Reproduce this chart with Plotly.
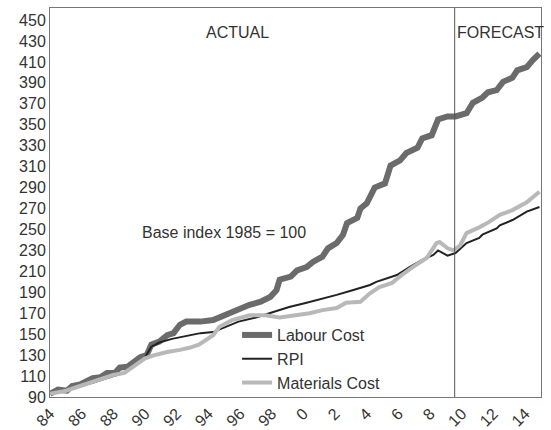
import plotly.graph_objects as go

# ---------------- data ----------------
labour_x = [1984.0, 1984.5, 1985.07, 1985.4, 1985.9, 1986.3, 1986.7, 1987.2, 1987.6, 1988.1,
            1988.4, 1988.9, 1989.2, 1989.7, 1990.1, 1990.4, 1990.9, 1991.4, 1991.8, 1992.2,
            1992.6, 1993.5, 1994.3, 1994.7, 1995.4, 1996.0, 1996.6, 1997.3, 1997.9, 1998.3,
            1998.5, 1999.2, 1999.6, 2000.2, 2000.6, 2001.2, 2001.55, 2002.1, 2002.5, 2002.75,
            2003.4, 2003.6, 2004.0, 2004.5, 2005.15, 2005.5, 2006.1, 2006.5, 2007.2, 2007.5,
            2008.1, 2008.5, 2009.1, 2009.6, 2010.3, 2010.7, 2011.3, 2011.65, 2012.2, 2012.6,
            2013.2, 2013.5, 2014.1, 2014.5, 2014.9]
labour_y = [93, 97, 96, 100.5, 102, 105, 108, 109, 113, 113,
            118, 119, 123, 128, 130, 140, 143, 149, 151, 159,
            162, 162, 163.5, 166, 171, 175, 178, 181, 185.5, 192,
            202, 205, 211, 214, 219, 224, 232, 237, 245, 256,
            261, 270, 275, 290, 294, 311, 316, 323, 328, 337,
            340, 355, 358, 358, 361, 371, 376, 381, 383, 391,
            395, 402, 405, 412, 418]

rpi_x = [1984.0, 1985.0, 1985.8, 1986.8, 1987.8, 1988.7, 1989.5, 1990.0, 1990.4, 1990.9,
         1991.7, 1992.5, 1993.5, 1994.3, 1995.1, 1995.9, 1997.0, 1998.0, 1999.1, 2000.2,
         2001.0, 2002.1, 2003.1, 2003.6, 2004.2, 2004.6, 2005.9, 2006.7, 2007.5, 2008.2,
         2008.5, 2009.1, 2009.6, 2010.3, 2011.1, 2011.3, 2012.2, 2012.4, 2013.2, 2014.1,
         2014.9]
rpi_y = [93, 97, 100, 104, 109, 113, 121, 128, 138, 142,
         145.5, 148, 151, 152, 157, 162, 166, 171, 176, 180,
         183, 187.5, 192, 194, 197, 200, 206.5, 214, 221, 225.6,
         230, 225, 227.5, 237, 242, 245, 251, 254, 259, 267,
         271.5]

materials_x = [1984.0, 1985.0, 1986.0, 1987.0, 1988.0, 1988.7, 1989.5, 1990.0, 1990.6, 1991.4,
               1992.2, 1992.8, 1993.4, 1993.8, 1994.3, 1994.7, 1995.5, 1996.6, 1997.6, 1998.5,
               1999.3, 2000.4, 2001.2, 2002.1, 2002.7, 2003.6, 2004.2, 2004.8, 2005.6, 2006.2,
               2006.9, 2007.8, 2008.4, 2008.6, 2009.1, 2009.5, 2009.9, 2010.3, 2011.1, 2011.7,
               2012.4, 2013.2, 2014.1, 2014.9]
materials_y = [93, 96, 101, 106, 111, 113, 122, 127, 130, 133,
               135, 137, 140, 144, 149, 157, 163.5, 168, 168, 166,
               168, 170, 173, 175, 180, 181, 189, 195, 199, 206.5,
               214, 223, 237, 238, 232, 230, 235, 246.5, 252, 257,
               264, 268.5, 276, 286]

forecast_start = 2009.55
x_tick_vals = list(range(1984, 2015, 2))
x_tick_text = ["84", "86", "88", "90", "92", "94", "96", "98", "0", "2", "4", "6", "8", "10", "12", "14"]
y_tick_vals = list(range(90, 451, 20))

FONT = "Liberation Sans, Arial, sans-serif"
TXT = "#333333"
FS = 16

fig = go.Figure()
fig.add_trace(go.Scatter(x=labour_x, y=labour_y, mode="lines", name="Labour Cost",
                         line=dict(color="#6b6b6b", width=6)))
fig.add_trace(go.Scatter(x=rpi_x, y=rpi_y, mode="lines", name="RPI",
                         line=dict(color="#222222", width=2)))
fig.add_trace(go.Scatter(x=materials_x, y=materials_y, mode="lines", name="Materials Cost",
                         line=dict(color="#b8b8b8", width=4)))

fig.add_shape(type="line", xref="x", yref="paper", x0=forecast_start, x1=forecast_start,
              y0=0, y1=1, line=dict(color="#555555", width=1))

ann_font = dict(family=FONT, size=FS, color=TXT)
fig.add_annotation(xref="paper", yref="paper", x=0.381, y=0.936, text="ACTUAL",
                   xanchor="center", yanchor="middle", showarrow=False, font=ann_font)
fig.add_annotation(xref="paper", yref="paper", x=0.918, y=0.936, text="FORECAST",
                   xanchor="center", yanchor="middle", showarrow=False, font=ann_font)
fig.add_annotation(xref="paper", yref="paper", x=0.354, y=0.424, text="Base index 1985 = 100",
                   xanchor="center", yanchor="middle", showarrow=False, font=ann_font)

fig.update_layout(
    width=551, height=430,
    margin=dict(l=50, r=10, t=8, b=33, autoexpand=False),
    paper_bgcolor="white", plot_bgcolor="white",
    font=dict(family=FONT, size=FS, color=TXT),
    showlegend=True,
    legend=dict(x=0.381, y=0.203, xanchor="left", yanchor="top",
                bgcolor="rgba(0,0,0,0)", font=dict(family=FONT, size=FS, color=TXT),
                itemwidth=30, tracegroupgap=0),
    xaxis=dict(range=[1984, 2015], tickmode="array", tickvals=x_tick_vals, ticktext=x_tick_text,
               tickangle=-45, showgrid=False, zeroline=False, showline=True, automargin=False,
               linecolor="#777777", linewidth=1, mirror=True, ticks="",
               tickfont=dict(family=FONT, size=FS, color=TXT)),
    yaxis=dict(range=[90, 461.5], tickmode="array", tickvals=y_tick_vals,
               showgrid=False, zeroline=False, showline=True, automargin=False,
               linecolor="#777777", linewidth=1, mirror=True, ticks="",
               tickfont=dict(family=FONT, size=FS, color=TXT)),
)

fig.write_html("out.html", config={"displayModeBar": False},
               post_script="document.body.style.margin='0';")
